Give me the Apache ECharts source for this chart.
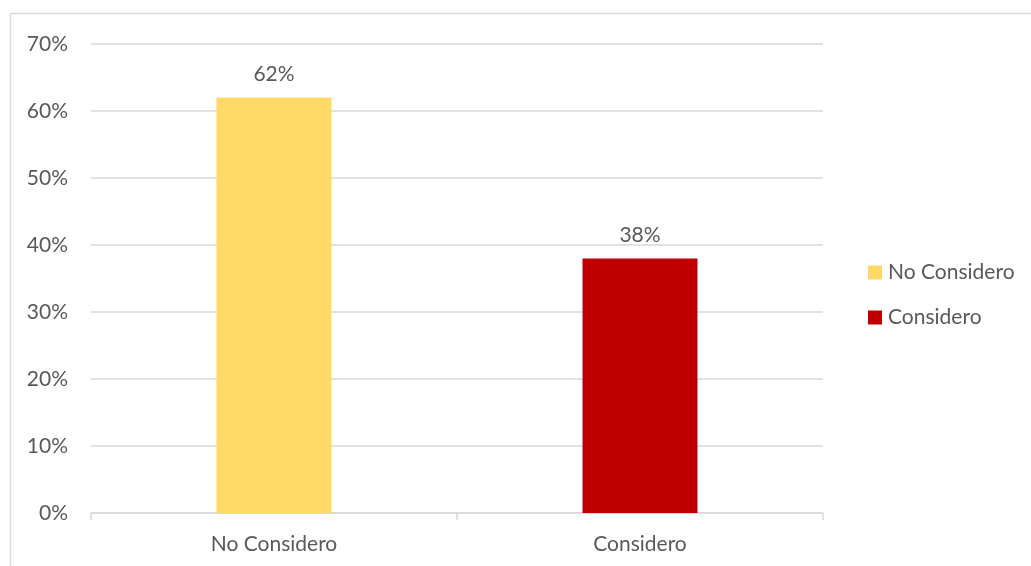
<!DOCTYPE html>
<html><head><meta charset="utf-8">
<script src="https://cdn.jsdelivr.net/npm/echarts@6/dist/echarts.min.js"></script>
<style>html,body{margin:0;padding:0;background:#fff}#c{width:1031px;height:566px}</style>
</head><body><div id="c"></div>
<script>
const categories = ['No Considero', 'Considero'];
const seriesNames = ['No Considero', 'Considero'];
const noConsidero = [62, '-'];
const considero = ['-', 38];
const colors = ['#FFD966', '#C00000'];
const font = 'Lato, "Open Sans", sans-serif';
const txt = '#595959';
const fs = 21;
const chart = echarts.init(document.getElementById('c'));
const mk = (name, data, color) => ({
  name, type: 'bar', stack: 'a', data, barWidth: 115,
  itemStyle: { color },
  label: { show: true, position: 'top', distance: 13, formatter: p => p.value + '%', color: txt, fontSize: fs, fontFamily: font }
});
chart.setOption({
  animation: false,
  graphic: [{ type: 'rect', shape: { x: 10.5, y: 13.5, width: 1030, height: 560 }, style: { fill: 'none', stroke: '#d9d9d9', lineWidth: 1.5 }, silent: true }],
  grid: { left: 91, right: 208, top: 44, bottom: 53 },
  legend: {
    orient: 'vertical', left: 863, top: 257, itemWidth: 14, itemHeight: 14, itemGap: 24,
    icon: 'rect', textStyle: { color: txt, fontSize: fs, fontFamily: font, padding: [0, 0, 0, 1] },
    data: seriesNames
  },
  xAxis: {
    type: 'category', data: categories,
    axisLine: { lineStyle: { color: '#d9d9d9', width: 1.5 } },
    axisTick: { show: true, length: 7, lineStyle: { color: '#d9d9d9', width: 1.5 } },
    axisLabel: { color: txt, fontSize: fs, fontFamily: font, margin: 21 }
  },
  yAxis: {
    type: 'value', min: 0, max: 70, interval: 10,
    axisLine: { show: false }, axisTick: { show: false },
    splitLine: { lineStyle: { color: '#d9d9d9', width: 1.5 } },
    axisLabel: { formatter: '{value}%', color: txt, fontSize: fs, fontFamily: font, margin: 23 }
  },
  series: [mk(seriesNames[0], noConsidero, colors[0]), mk(seriesNames[1], considero, colors[1])]
});
</script></body></html>
